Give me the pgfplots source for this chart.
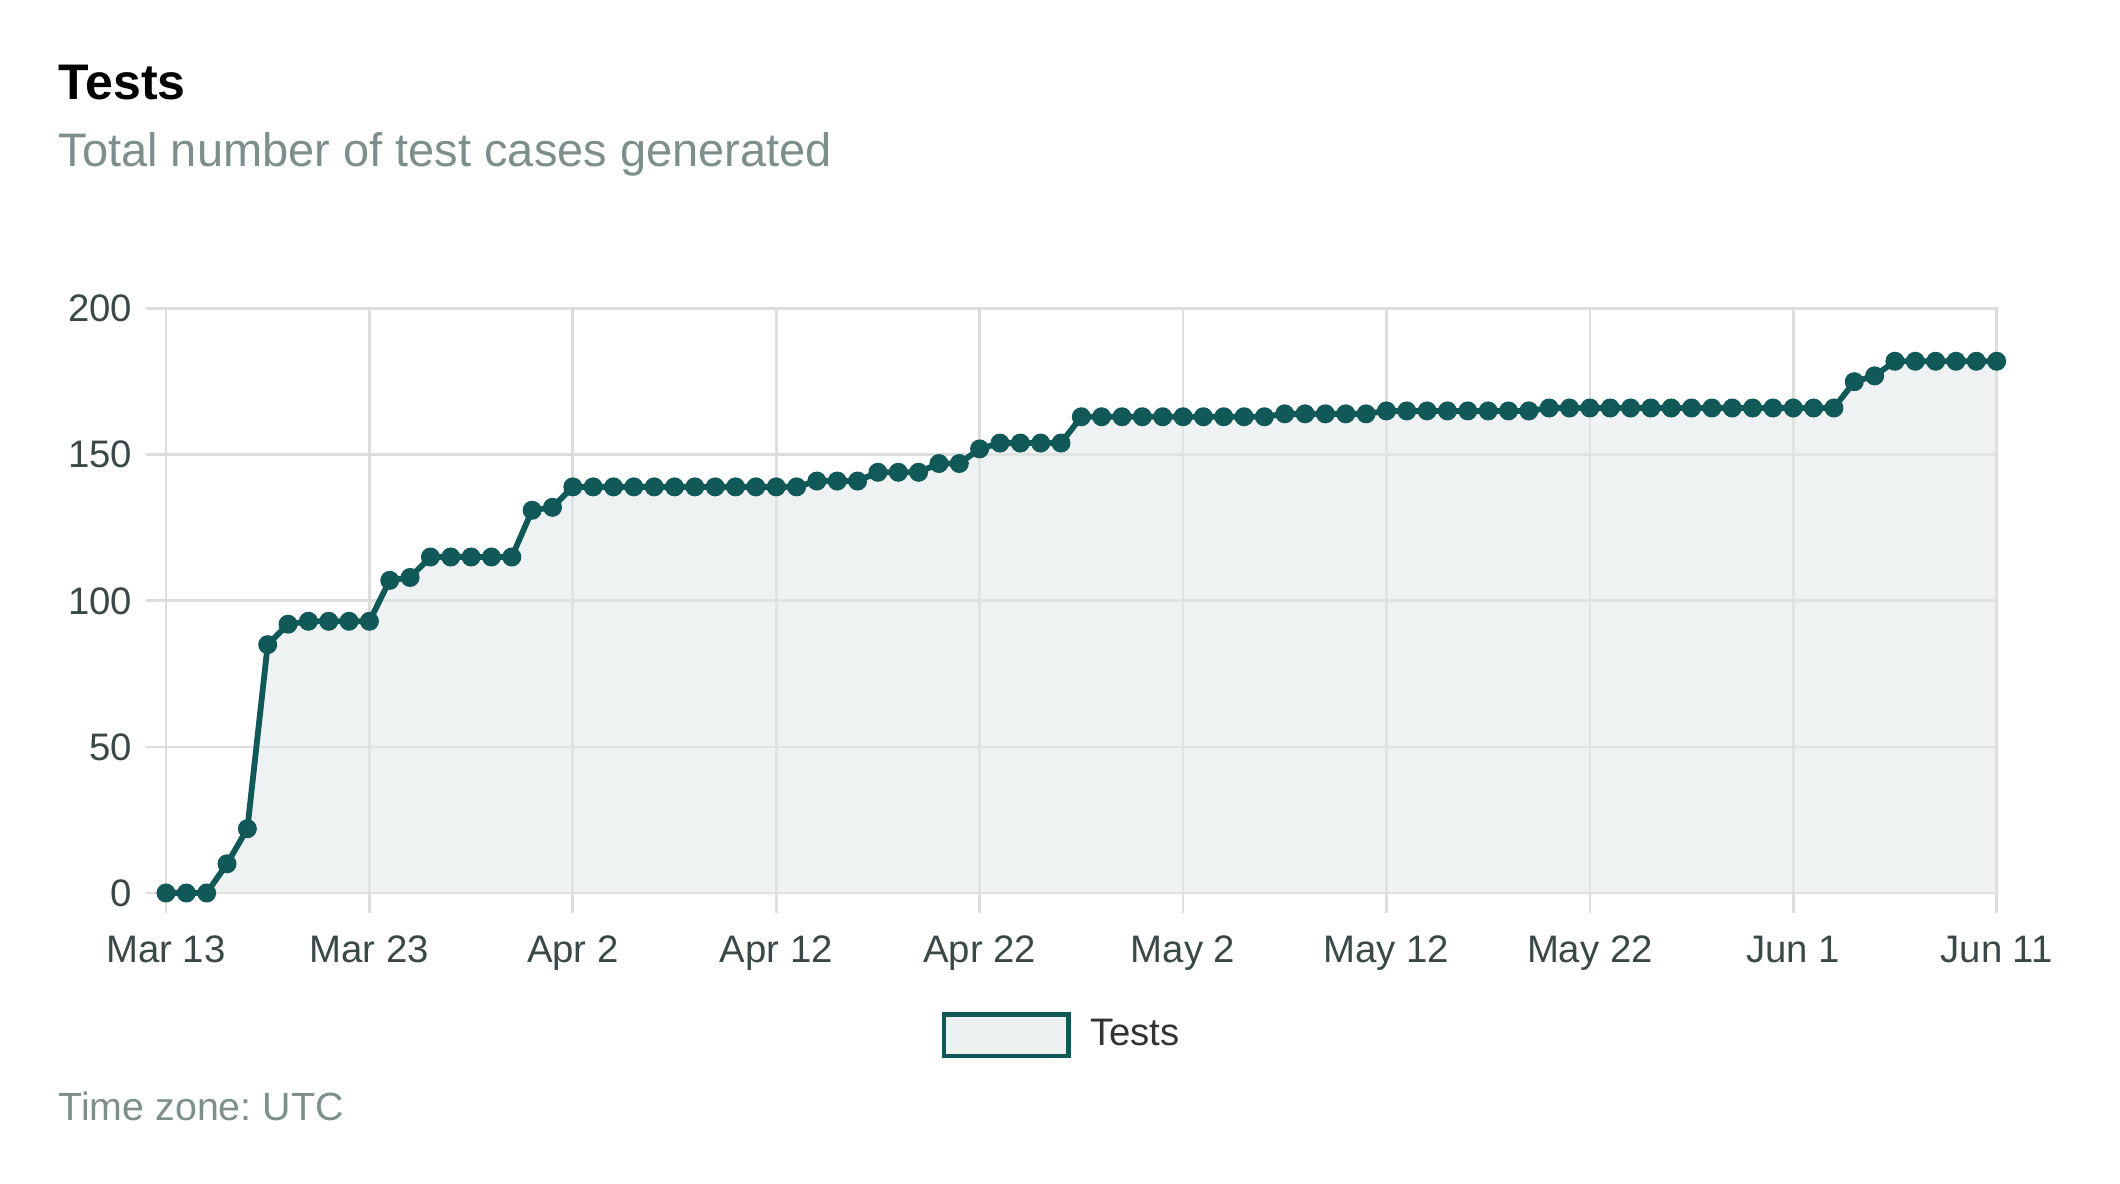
\documentclass[border=0pt]{standalone}
\usepackage{fontspec}
\setmainfont{Liberation Sans}
\usepackage{pgfplots}
\usepackage{pgfplotstable}
\pgfplotsset{compat=1.18}

\definecolor{linecol}{RGB}{17,88,89}
\definecolor{areafill}{RGB}{226,232,231}
\definecolor{gridcol}{RGB}{221,221,221}
\definecolor{tickcol}{RGB}{58,72,72}
\definecolor{subcol}{RGB}{125,143,141}

% day 0 = Mar 13, one value per day
\pgfplotstableread{
day tests
0 0
1 0
2 0
3 10
4 22
5 85
6 92
7 93
8 93
9 93
10 93
11 107
12 108
13 115
14 115
15 115
16 115
17 115
18 131
19 132
20 139
21 139
22 139
23 139
24 139
25 139
26 139
27 139
28 139
29 139
30 139
31 139
32 141
33 141
34 141
35 144
36 144
37 144
38 147
39 147
40 152
41 154
42 154
43 154
44 154
45 163
46 163
47 163
48 163
49 163
50 163
51 163
52 163
53 163
54 163
55 164
56 164
57 164
58 164
59 164
60 165
61 165
62 165
63 165
64 165
65 165
66 165
67 165
68 166
69 166
70 166
71 166
72 166
73 166
74 166
75 166
76 166
77 166
78 166
79 166
80 166
81 166
82 166
83 175
84 177
85 182
86 182
87 182
88 182
89 182
90 182
}\testsdata

\begin{document}
\frenchspacing
\begin{tikzpicture}
\path[use as bounding box] (0bp,0bp) rectangle (636bp,355.2bp);
\node[anchor=base west, inner sep=0pt, font=\fontsize{15bp}{18bp}\selectfont\bfseries] at (17.4bp,325.2bp) {Tests};
\node[anchor=base west, inner sep=0pt, text=subcol, font=\fontsize{14.1bp}{17bp}\selectfont] at (17.4bp,305.1bp) {Total number of test cases generated};
\node[anchor=base west, inner sep=0pt, text=subcol, font=\fontsize{11.8bp}{14bp}\selectfont] at (17.4bp,19.1bp) {Time zone: UTC};

\begin{axis}[
  at={(49.8bp,87.3bp)}, anchor=south west,
  scale only axis, width=549.2bp, height=175.3bp,
  xmin=0, xmax=90, ymin=0, ymax=200,
  xtick={0,10,...,90},
  xticklabels={Mar 13,Mar 23,Apr 2,Apr 12,Apr 22,May 2,May 12,May 22,Jun 1,Jun 11},
  ytick={0,50,...,200},
  grid=major,
  grid style={draw=gridcol, line width=0.8bp},
  axis line style={draw=gridcol, line width=0.8bp},
  tick style={draw=gridcol, line width=0.8bp},
  tick align=outside, tick pos=left, major tick length=6bp,
  ticklabel style={font=\fontsize{11.5bp}{13bp}\selectfont, text=tickcol},
  /pgf/number format/assume math mode=true,
  xticklabel style={anchor=base, yshift=-14.8bp},
  yticklabel style={anchor=east, inner sep=0pt, xshift=-4bp},
  clip=false,
  legend style={at={(axis description cs:0.4905,-0.203)}, anchor=north,
    draw=none, fill=none, inner sep=0pt,
    font=\fontsize{11.5bp}{13bp}\selectfont, text=black!80,
    /tikz/every odd column/.append style={column sep=3.7bp}},
  legend image code/.code={
    \draw[draw=linecol, line width=1.4bp, fill=areafill!60] (0bp,-6.2bp) rectangle (37.4bp,6.2bp);
  },
]
\addplot[draw=none, fill=areafill, fill opacity=0.55, forget plot]
  table[x=day, y=tests] {\testsdata} \closedcycle;
\addplot[draw=linecol, line width=1.75bp, mark=*, mark size=2.6bp,
  mark options={fill=linecol, draw=linecol, line width=0.5bp}]
  table[x=day, y=tests] {\testsdata};
\addlegendentry{Tests}
\end{axis}
\end{tikzpicture}
\end{document}
